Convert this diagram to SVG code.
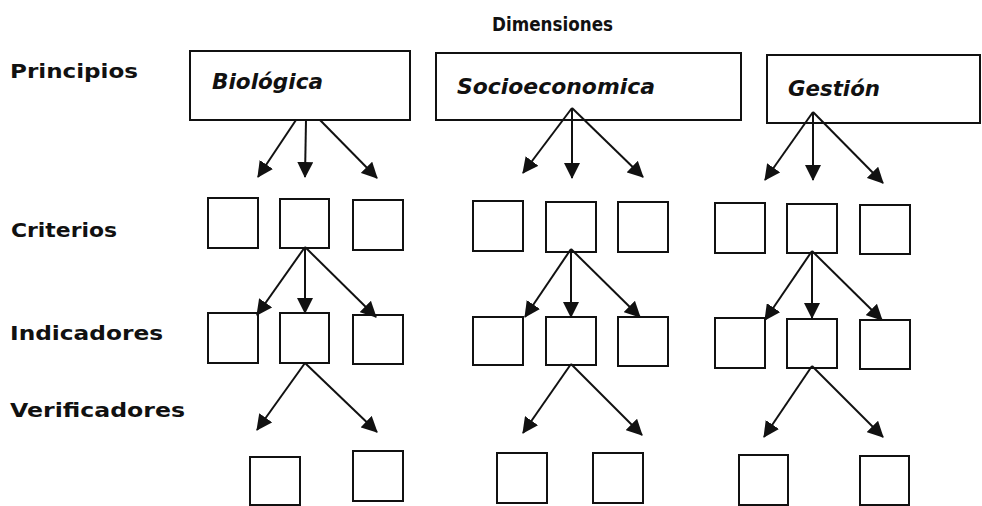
<svg xmlns="http://www.w3.org/2000/svg" width="982" height="506" viewBox="0 0 982 506">
<style>
.lbl{font-family:"DejaVu Sans","Liberation Sans",sans-serif;font-weight:bold;font-size:20px;fill:#111}
.dim{font-family:"DejaVu Sans","Liberation Sans",sans-serif;font-weight:bold;font-style:italic;font-size:21px;fill:#111}
.box{fill:#fff;stroke:#111;stroke-width:2}
.con line{stroke:#111;stroke-width:2;marker-end:url(#ah)}
</style>
<defs>
<marker id="ah" markerUnits="userSpaceOnUse" markerWidth="16" markerHeight="16" refX="15" refY="8" orient="auto" viewBox="0 0 16 16">
<path d="M0,0 L16,8 L0,16 z" fill="#111"/>
</marker>
</defs>
<rect width="982" height="506" fill="#fff"/>
<g id="labels">
<text class="lbl" x="492" y="31" textLength="121" lengthAdjust="spacingAndGlyphs">Dimensiones</text>
<text class="lbl" x="10" y="78" textLength="128" lengthAdjust="spacingAndGlyphs">Principios</text>
<text class="lbl" x="11" y="237" textLength="106" lengthAdjust="spacingAndGlyphs">Criterios</text>
<text class="lbl" x="10" y="340" textLength="153" lengthAdjust="spacingAndGlyphs">Indicadores</text>
<text class="lbl" x="10" y="417" textLength="175" lengthAdjust="spacingAndGlyphs">Verificadores</text>
</g>
<g id="p-bio"><rect class="box" x="190" y="51" width="220" height="69"/><text class="dim" x="212" y="89" textLength="111" lengthAdjust="spacingAndGlyphs">Biológica</text></g>
<g id="p-socio"><rect class="box" x="436" y="53" width="305" height="67"/><text class="dim" x="457" y="94" textLength="198" lengthAdjust="spacingAndGlyphs">Socioeconomica</text></g>
<g id="p-gest"><rect class="box" x="767" y="55" width="213" height="68"/><text class="dim" x="788" y="96" textLength="92" lengthAdjust="spacingAndGlyphs">Gestión</text></g>
<g id="c1a"><rect class="box" x="208" y="198" width="50" height="50"/></g>
<g id="c1b"><rect class="box" x="280" y="199" width="49" height="49"/></g>
<g id="c1c"><rect class="box" x="353" y="200" width="50" height="50"/></g>
<g id="c2a"><rect class="box" x="473" y="201" width="50" height="50"/></g>
<g id="c2b"><rect class="box" x="546" y="202" width="50" height="50"/></g>
<g id="c2c"><rect class="box" x="618" y="202" width="50" height="50"/></g>
<g id="c3a"><rect class="box" x="715" y="203" width="50" height="50"/></g>
<g id="c3b"><rect class="box" x="787" y="204" width="50" height="49"/></g>
<g id="c3c"><rect class="box" x="860" y="205" width="50" height="49"/></g>
<g id="i1a"><rect class="box" x="208" y="313" width="50" height="50"/></g>
<g id="i1b"><rect class="box" x="280" y="313" width="49" height="50"/></g>
<g id="i1c"><rect class="box" x="353" y="315" width="50" height="49"/></g>
<g id="i2a"><rect class="box" x="473" y="317" width="50" height="48"/></g>
<g id="i2b"><rect class="box" x="546" y="317" width="50" height="48"/></g>
<g id="i2c"><rect class="box" x="618" y="317" width="50" height="49"/></g>
<g id="i3a"><rect class="box" x="715" y="318" width="50" height="50"/></g>
<g id="i3b"><rect class="box" x="787" y="319" width="50" height="49"/></g>
<g id="i3c"><rect class="box" x="860" y="320" width="50" height="49"/></g>
<g id="v1a"><rect class="box" x="250" y="457" width="50" height="48"/></g>
<g id="v1b"><rect class="box" x="353" y="451" width="50" height="50"/></g>
<g id="v2a"><rect class="box" x="497" y="453" width="50" height="50"/></g>
<g id="v2b"><rect class="box" x="593" y="453" width="50" height="50"/></g>
<g id="v3a"><rect class="box" x="739" y="455" width="49" height="50"/></g>
<g id="v3b"><rect class="box" x="860" y="456" width="49" height="49"/></g>
<g id="connectors" class="con">
<line x1="296" y1="120" x2="258" y2="177"/>
<line x1="306" y1="120" x2="305" y2="177"/>
<line x1="320" y1="120" x2="377" y2="178"/>
<line x1="572" y1="108" x2="523" y2="173"/>
<line x1="572" y1="108" x2="572" y2="178"/>
<line x1="572" y1="108" x2="643" y2="177"/>
<line x1="813" y1="112" x2="765" y2="180"/>
<line x1="813" y1="112" x2="813" y2="180"/>
<line x1="813" y1="112" x2="883" y2="183"/>
<line x1="305" y1="247" x2="257" y2="315"/>
<line x1="305" y1="247" x2="305" y2="313"/>
<line x1="305" y1="247" x2="376" y2="317"/>
<line x1="571" y1="249" x2="525" y2="317"/>
<line x1="571" y1="249" x2="571" y2="317"/>
<line x1="571" y1="249" x2="640" y2="317"/>
<line x1="812" y1="251" x2="765" y2="320"/>
<line x1="812" y1="251" x2="812" y2="318"/>
<line x1="812" y1="251" x2="882" y2="320"/>
<line x1="305" y1="363" x2="257" y2="430"/>
<line x1="305" y1="363" x2="377" y2="432"/>
<line x1="571" y1="364" x2="523" y2="433"/>
<line x1="571" y1="364" x2="642" y2="435"/>
<line x1="812" y1="366" x2="764" y2="437"/>
<line x1="812" y1="366" x2="883" y2="437"/>
</g>
</svg>
